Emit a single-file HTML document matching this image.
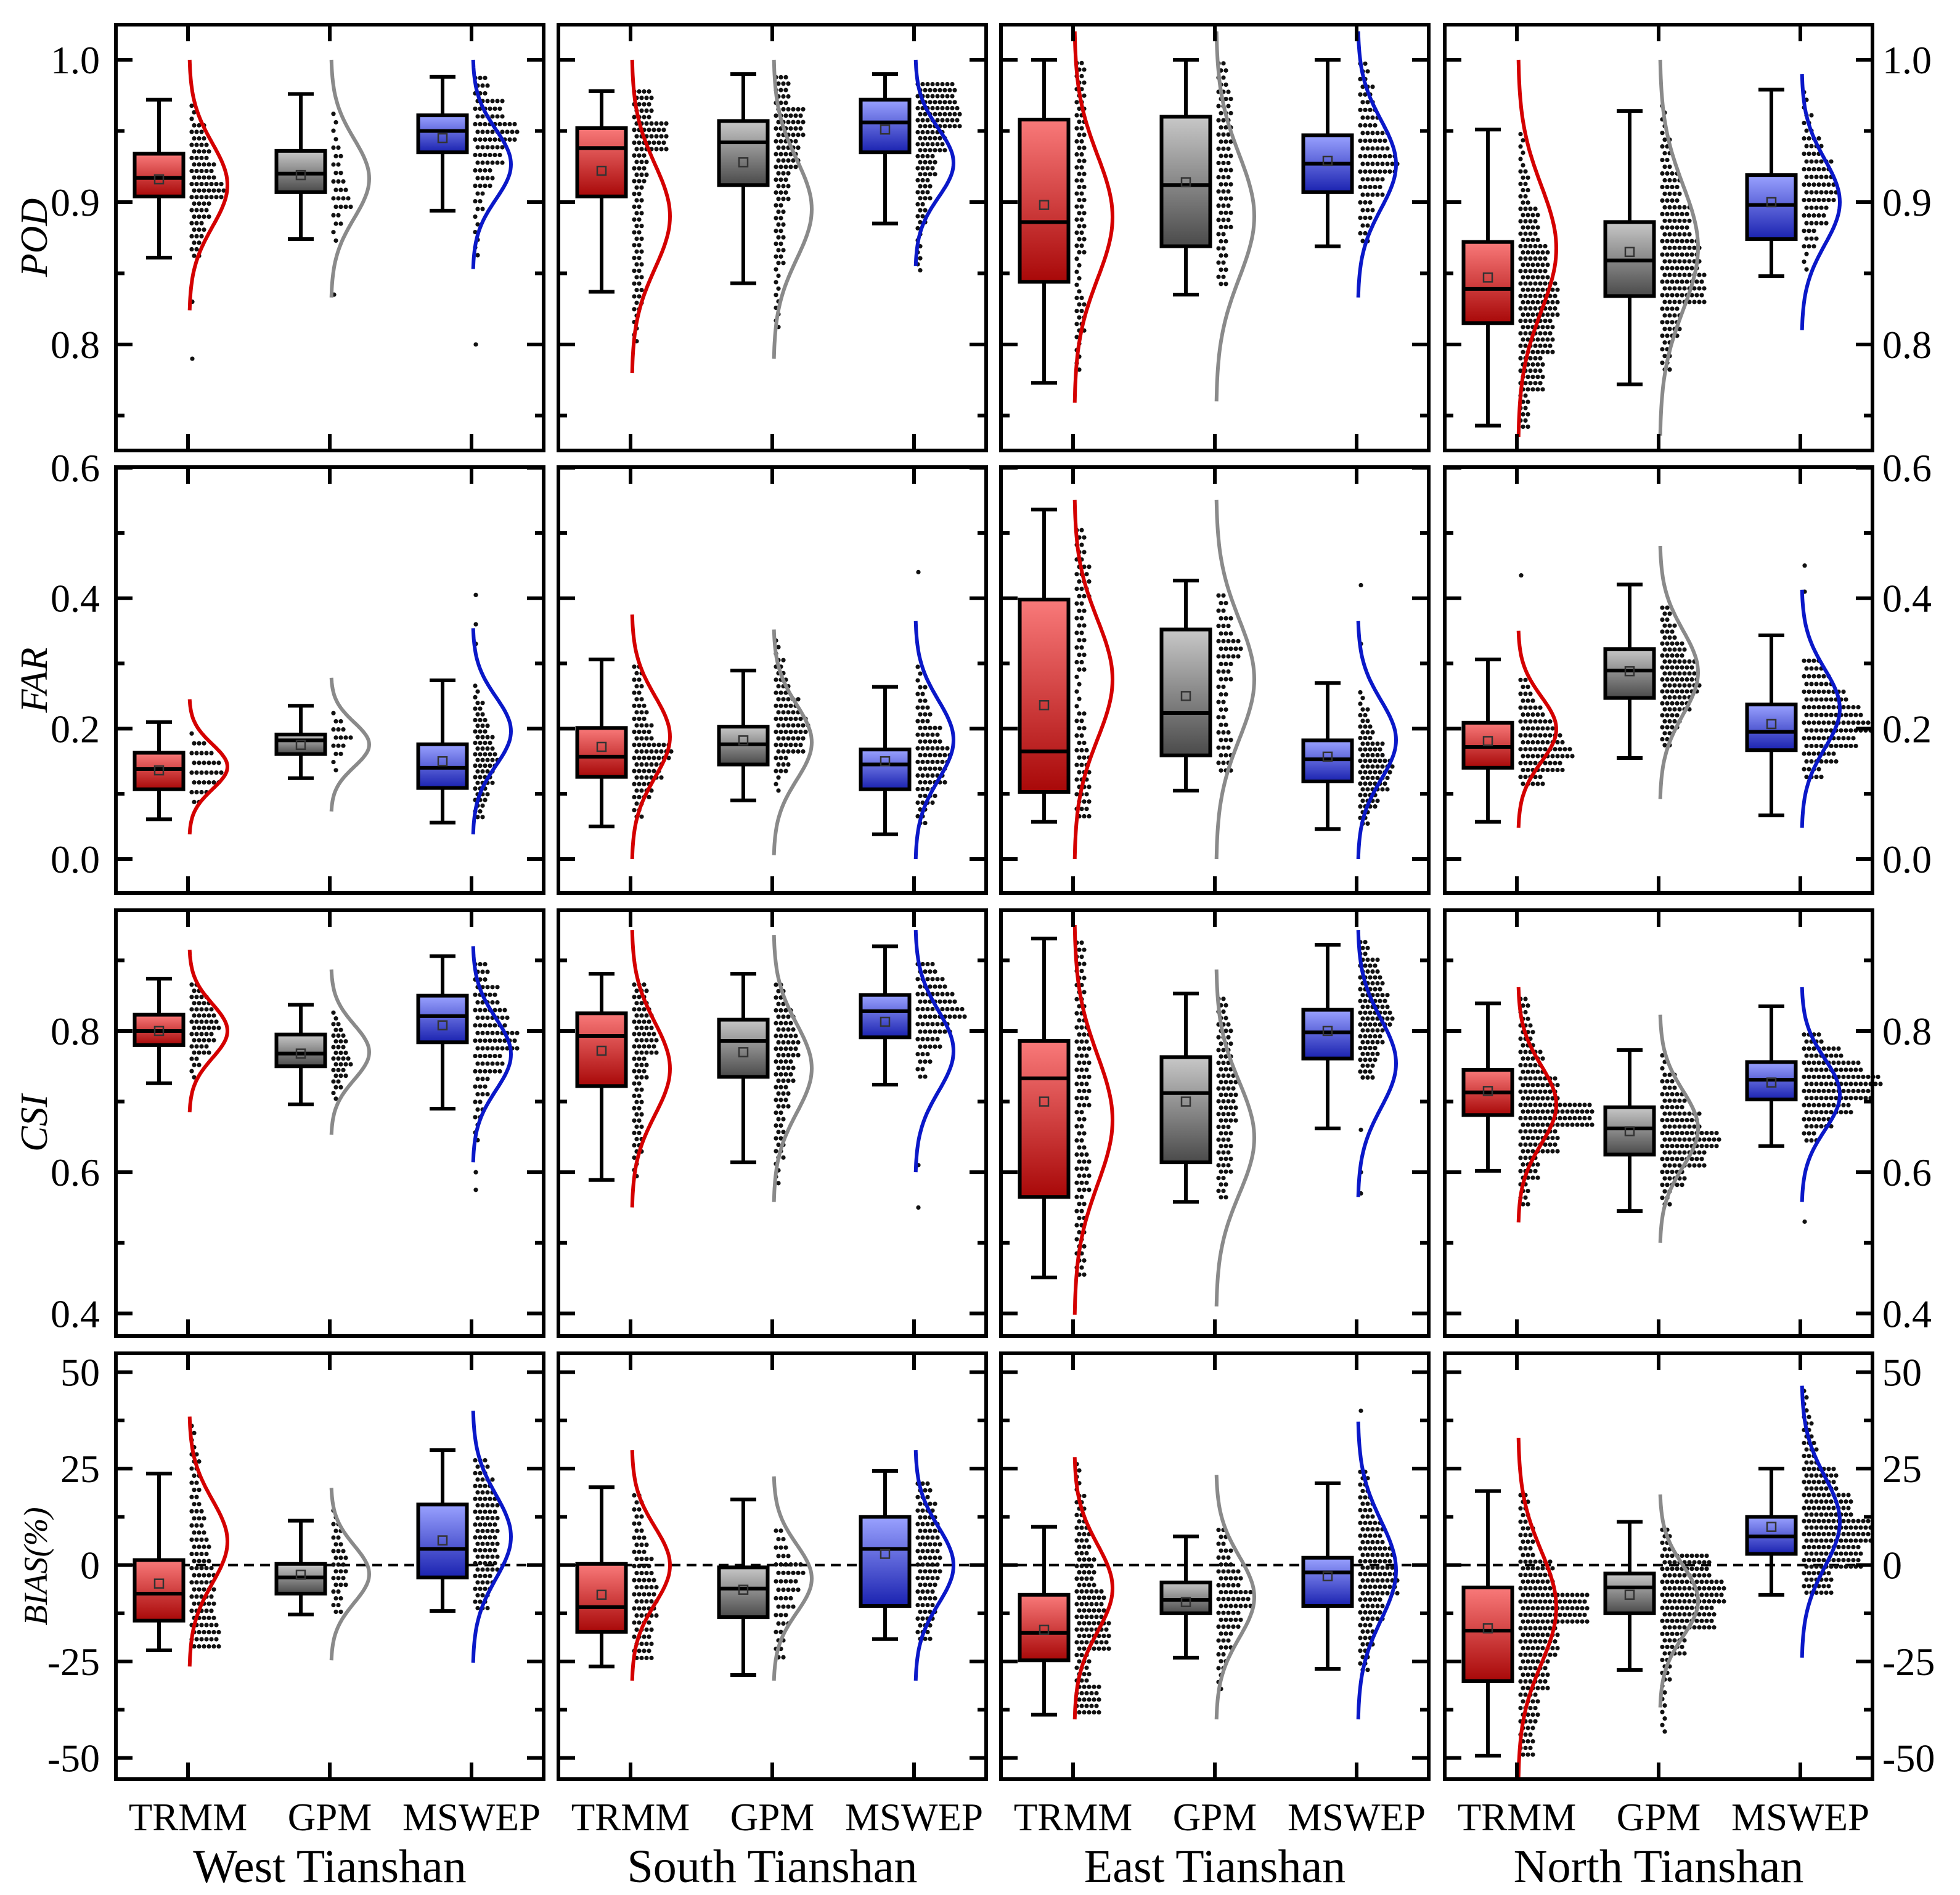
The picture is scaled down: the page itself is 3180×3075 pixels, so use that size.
<!DOCTYPE html>
<html><head><meta charset="utf-8">
<style>
html,body{margin:0;padding:0;background:#fff;}
svg{display:block;}
text{font-family:"Liberation Serif","DejaVu Serif",serif;fill:#000;}
</style></head>
<body>
<svg id="chart" width="3180" height="3075" viewBox="0 0 3180 3075" xmlns="http://www.w3.org/2000/svg">
<defs>
<linearGradient id="gr0" x1="0" y1="0" x2="0" y2="1"><stop offset="0" stop-color="#f97a7a"/><stop offset="1" stop-color="#a80808"/></linearGradient>
<linearGradient id="gr1" x1="0" y1="0" x2="0" y2="1"><stop offset="0" stop-color="#c8c8c8"/><stop offset="1" stop-color="#4a4a4a"/></linearGradient>
<linearGradient id="gr2" x1="0" y1="0" x2="0" y2="1"><stop offset="0" stop-color="#9aa2ff"/><stop offset="1" stop-color="#1a22b0"/></linearGradient>
</defs>
</svg>
<script>
const categories = ["TRMM","GPM","MSWEP"];
const regions = ["West Tianshan","South Tianshan","East Tianshan","North Tianshan"];
const metrics = ["POD","FAR","CSI","BIAS(%)"];
// box stats: [whiskerLow, q1, median, q3, whiskerHigh, mean] per region, per product
const podBox = [
 [[0.861,0.904,0.917,0.934,0.972,0.916],[0.874,0.907,0.920,0.936,0.976,0.919],[0.894,0.935,0.950,0.961,0.988,0.945]],
 [[0.837,0.904,0.938,0.952,0.978,0.922],[0.843,0.912,0.942,0.957,0.990,0.928],[0.885,0.935,0.956,0.972,0.990,0.951]],
 [[0.773,0.844,0.886,0.958,1.000,0.898],[0.835,0.869,0.912,0.960,1.000,0.914],[0.869,0.907,0.927,0.947,1.000,0.929]],
 [[0.743,0.815,0.839,0.872,0.951,0.847],[0.772,0.834,0.859,0.886,0.964,0.865],[0.848,0.874,0.898,0.919,0.979,0.900]]];
const farBox = [
 [[0.061,0.107,0.138,0.163,0.210,0.136],[0.124,0.161,0.182,0.191,0.235,0.175],[0.056,0.109,0.140,0.176,0.274,0.150]],
 [[0.050,0.126,0.157,0.201,0.306,0.172],[0.090,0.145,0.176,0.203,0.289,0.182],[0.038,0.107,0.145,0.168,0.264,0.150]],
 [[0.057,0.103,0.165,0.398,0.536,0.236],[0.105,0.159,0.224,0.352,0.427,0.250],[0.046,0.119,0.153,0.182,0.270,0.157]],
 [[0.057,0.140,0.172,0.209,0.306,0.181],[0.155,0.247,0.289,0.322,0.421,0.288],[0.067,0.167,0.195,0.237,0.343,0.207]]];
const csiBox = [
 [[0.726,0.780,0.800,0.823,0.874,0.800],[0.696,0.750,0.768,0.795,0.837,0.768],[0.690,0.784,0.821,0.850,0.906,0.808]],
 [[0.589,0.722,0.793,0.825,0.881,0.772],[0.614,0.735,0.786,0.816,0.881,0.770],[0.724,0.791,0.828,0.851,0.920,0.813]],
 [[0.451,0.565,0.733,0.786,0.931,0.700],[0.558,0.614,0.712,0.763,0.853,0.700],[0.662,0.761,0.798,0.830,0.922,0.800]],
 [[0.602,0.681,0.713,0.745,0.839,0.715],[0.545,0.625,0.662,0.692,0.773,0.658],[0.637,0.703,0.731,0.756,0.835,0.727]]];
const biasBox = [
 [[-22.1,-14.4,-7.4,1.3,23.7,-4.8],[-12.8,-7.4,-3.2,0.3,11.5,-2.5],[-11.9,-3.2,4.2,15.7,29.8,6.4]],
 [[-26.3,-17.3,-10.9,0.3,20.2,-7.7],[-28.5,-13.5,-6.1,-0.6,17.0,-6.4],[-19.2,-10.6,4.2,12.5,24.4,2.9]],
 [[-38.8,-24.7,-17.6,-7.7,9.9,-16.8],[-24.0,-12.5,-9.0,-4.5,7.4,-9.6],[-26.9,-10.6,-1.9,1.9,21.2,-2.9]],
 [[-49.4,-30.1,-17.0,-5.8,19.2,-16.4],[-27.2,-12.5,-5.8,-2.2,11.2,-7.7],[-7.7,2.9,7.4,12.5,25.0,9.9]]];
// normal curve extent [low, high]
const podCurve = [[[0.824,1.0],[0.833,1.0],[0.853,1.0]],[[0.780,1.0],[0.790,1.0],[0.855,1.0]],[[0.759,1.02],[0.760,1.02],[0.833,1.02]],[[0.735,1.0],[0.736,1.0],[0.810,0.99]]];
const farCurve = [[[0.038,0.245],[0.073,0.278],[0.038,0.354]],[[0.0,0.375],[0.006,0.352],[0.0,0.365]],[[0.0,0.551],[0.0,0.551],[0.0,0.365]],[[0.048,0.350],[0.092,0.480],[0.048,0.413]]];
const csiCurve = [[[0.685,0.915],[0.653,0.887],[0.614,0.920]],[[0.550,0.943],[0.558,0.936],[0.600,0.943]],[[0.398,0.950],[0.410,0.887],[0.565,0.943]],[[0.529,0.862],[0.500,0.823],[0.558,0.862]]];
const biasCurve = [[[-26.3,38.5],[-24.7,20.0],[-25.3,40.0]],[[-30,29.8],[-30,23],[-30,29.8]],[[-40,28],[-40,23.4],[-40,37.2]],[[-55,33],[-36.9,18.3],[-24,46.5]]];
// dot cloud range [low, high]
const podDotRange = [[[0.86,0.97],[0.87,0.965],[0.86,0.99]],[[0.80,0.98],[0.81,0.99],[0.85,0.985]],[[0.78,1.0],[0.84,1.0],[0.87,1.0]],[[0.74,0.95],[0.78,0.97],[0.85,0.98]]];
const farDotRange = [[[0.08,0.20],[0.13,0.23],[0.06,0.27]],[[0.06,0.30],[0.10,0.34],[0.05,0.30]],[[0.06,0.51],[0.13,0.41],[0.05,0.26]],[[0.11,0.28],[0.17,0.39],[0.12,0.31]]];
const csiDotRange = [[[0.73,0.87],[0.70,0.83],[0.64,0.90]],[[0.59,0.87],[0.58,0.87],[0.73,0.90]],[[0.45,0.93],[0.56,0.85],[0.73,0.93]],[[0.55,0.85],[0.55,0.77],[0.64,0.80]]];
const biasDotRange = [[[-22,37],[-13,15],[-12,28]],[[-25,19],[-25,10],[-20,22]],[[-39,27],[-33,10],[-28,25]],[[-50,19],[-44,10],[-8,46]]];
// dot counts per bin, from high value to low value
const podDots = [[[1,3,4,5,7,4,3,2],[1,1,2,2,3,4,2,1],[3,6,9,6,4,2,1,1]],[[4,7,3,2,2,2,2,1],[3,6,5,3,2,2,1,1],[8,9,6,4,3,2,1,1]],[[2,2,2,2,2,1,2,1],[2,3,3,3,3,3,2,2],[2,3,4,6,8,5,3,2]],[[1,2,4,6,8,7,5,2],[1,2,4,6,8,9,4,2],[1,2,4,6,7,5,3,1]]];
const farDots = [[[1,3,5,6,7,6,4,2],[1,2,3,4,3,2,1,1],[1,2,3,4,5,4,3,2]],[[2,2,3,4,8,6,4,2],[1,2,3,5,7,6,3,1],[1,2,3,5,7,6,4,2]],[[2,3,2,2,1,2,3,3],[2,3,5,3,2,2,3,3],[1,2,3,5,7,6,4,2]],[[2,3,5,7,9,11,9,5],[2,3,5,7,8,6,4,2],[4,6,9,12,14,11,7,4]]];
const csiDots = [[[2,4,5,6,5,4,2,1],[1,2,3,3,4,3,2,1],[3,5,7,9,6,3,2,1]],[[3,4,5,3,2,2,2,1],[2,4,5,4,3,2,2,1],[4,6,8,10,7,5,3,2]],[[2,2,3,3,2,3,2,2],[2,3,3,4,4,3,3,2],[2,4,5,6,7,5,4,3]],[[2,3,5,8,15,8,4,2],[1,3,5,8,12,9,5,2],[4,8,12,16,14,10,6,3]]];
const biasDots = [[[1,2,2,3,4,5,5,6],[1,2,2,3,3,3,2,2],[3,4,5,5,5,5,4,3]],[[2,2,3,4,5,5,4,4],[2,3,6,5,4,3,2,2],[3,4,5,5,5,4,4,3]],[[1,2,3,4,6,7,3,5],[2,3,5,7,5,3,2,1],[2,3,5,7,8,5,3,2]],[[2,3,7,14,8,6,4,3],[2,10,13,11,5,2,1,1],[1,2,3,7,10,14,12,6]]];
const podOut = [[[0.83,0.79],[0.835],[0.80]],[[],[],[]],[[],[],[]],[[],[],[]]];
const farOut = [[[],[],[0.405,0.36,0.33]],[[],[],[0.44]],[[],[],[0.42,0.33]],[[0.435],[],[0.45,0.41]]];
const csiOut = [[[],[],[0.575,0.60]],[[],[],[0.55,0.61]],[[],[],[0.66,0.57,0.60]],[[],[],[0.53]]];
const biasOut = [[[],[],[]],[[],[],[]],[[],[],[40]],[[],[],[]]];
const podTicks = ["1.0","0.9","0.8"];
const farTicks = ["0.6","0.4","0.2","0.0"];
const csiTicks = ["0.8","0.6","0.4"];
const biasTicks = ["50","25","0","-25","-50"];

const svg = document.getElementById('chart');
const NS = 'http://www.w3.org/2000/svg';
function mk(tag, attrs, parent){const e=document.createElementNS(NS,tag);for(const k in attrs)e.setAttribute(k,attrs[k]);(parent||svg).appendChild(e);return e;}

const colLeft=[188,906,1624,2344], PW=694;
const rowTop=[40,758,1477,2196], PH=691;
const domains=[[0.7255,1.0247],[-0.052,0.601],[0.368,0.971],[-55.5,54.9]];
const majors=[[0.8,0.9,1.0],[0,0.2,0.4,0.6],[0.4,0.6,0.8],[-50,-25,0,25,50]];
const minors=[[0.75,0.85,0.95],[0.1,0.3,0.5],[0.5,0.7,0.9],[-37.5,-12.5,12.5,37.5]];
const tickLabels=[podTicks,farTicks,csiTicks,biasTicks];
const tickVals=[[1.0,0.9,0.8],[0.6,0.4,0.2,0.0],[0.8,0.6,0.4],[50,25,0,-25,-50]];
const boxes=[podBox,farBox,csiBox,biasBox];
const curves=[podCurve,farCurve,csiCurve,biasCurve];
const dRanges=[podDotRange,farDotRange,csiDotRange,biasDotRange];
const dCounts=[podDots,farDots,csiDots,biasDots];
const outs=[podOut,farOut,csiOut,biasOut];
const lineCol=["#d40000","#8a8a8a","#0a18c8"];

function yScale(r){const [a,b]=domains[r];return v=>rowTop[r]+PH-(v-a)/(b-a)*PH;}
function xScale(c){return i=>colLeft[c]+117+i*230;}

for(let r=0;r<4;r++){
 const y=yScale(r);
 for(let c=0;c<4;c++){
  const x=xScale(c), L=colLeft[c], T=rowTop[r];
  const g=mk('g',{});
  
  
  if(r===3){const z=mk('line',{x1:L,x2:L+PW,y1:y(0),y2:y(0),stroke:'#000','stroke-width':4,'stroke-dasharray':'16,10'},g);
   }
  for(let i=0;i<3;i++){
   const cx=x(i);
   // dots
   const [lo,hi]=dRanges[r][c][i]; const counts=dCounts[r][c][i];
   const nb=counts.length; const y0=y(hi), y1=y(lo); const bh=(y1-y0)/nb;
   let row=0;
   for(let b=0;b<nb;b++){
     const nrows=Math.max(1,Math.round(bh/11));
     for(let k=0;k<nrows;k++){
       const yy=y0+b*bh+(k+0.5)*bh/nrows; const off=(row%2)*4; row++;
       for(let n=0;n<counts[b];n++){
         const d=mk('circle',{cx:cx+6+off+n*8,cy:yy,r:3.6,fill:'#111'},g);
         
         
       }
     }
   }
   for(const ov of outs[r][c][i]){
     const d=mk('circle',{cx:cx+7,cy:y(ov),r:3.6,fill:'#111'},g);
     
     
   }
   // curve
   const [clo,chi]=curves[r][c][i]; const mu=(clo+chi)/2, sd=(chi-clo)/6;
   let pts=[];
   for(let s=0;s<=80;s++){const v=clo+(chi-clo)*s/80;const p=Math.exp(-0.5*((v-mu)/sd)**2);pts.push((cx+2+62*p).toFixed(1)+','+y(v).toFixed(1));}
   const cv=mk('polyline',{points:pts.join(' '),fill:'none',stroke:lineCol[i],'stroke-width':6},g);
   
   
   // box
   const [wl,q1,md,q3,wh,mn]=boxes[r][c][i]; const bx=cx-47;
   const wk=mk('path',{d:`M${bx},${y(wh)}V${y(q3)}M${bx},${y(q1)}V${y(wl)}M${bx-21},${y(wh)}H${bx+21}M${bx-21},${y(wl)}H${bx+21}`,stroke:'#000','stroke-width':6,fill:'none'},g);
   
   
   const bxr=mk('rect',{x:bx-39.5,y:y(q3),width:79,height:y(q1)-y(q3),fill:`url(#gr${i})`,stroke:'#000','stroke-width':6},g);
   
   
   const ml=mk('line',{x1:bx-39.5,x2:bx+39.5,y1:y(md),y2:y(md),stroke:'#000','stroke-width':6},g);
   
   
   const mm=mk('rect',{x:bx-7,y:y(mn)-7,width:14,height:14,fill:'none',stroke:'#333','stroke-width':2.5},g);
   
   
  }
  // frame + ticks
  const fr=mk('rect',{x:L,y:T,width:PW,height:PH,fill:'none',stroke:'#000','stroke-width':6},g);
  
  
  let d='';
  for(const v of majors[r]){const yy=y(v);d+=`M${L},${yy}h27M${L+PW},${yy}h-27`;}
  for(const v of minors[r]){const yy=y(v);d+=`M${L},${yy}h14M${L+PW},${yy}h-14`;}
  for(let i=0;i<3;i++){d+=`M${x(i)},${T}v27M${x(i)},${T+PH}v-27`;}
  const tk=mk('path',{d:d,stroke:'#000','stroke-width':6,fill:'none'},g);
  
  
 }
 // tick labels
 tickLabels[r].forEach((lab,k)=>{
   const yy=y(tickVals[r][k])+22;
   const t1=mk('text',{x:162,y:yy,'font-size':64,'text-anchor':'end'});t1.textContent=lab;
   
   
   const t2=mk('text',{x:3054,y:yy,'font-size':64,'text-anchor':'start'});t2.textContent=lab;
   
   
 });
 const ym=rowTop[r]+PH/2;
 const tt=mk('text',{x:0,y:0,'font-size':r===3?54:62,'font-style':'italic','text-anchor':'middle',transform:`translate(76,${ym}) rotate(-90)`});
 tt.textContent=metrics[r];
 
 
}
for(let c=0;c<4;c++){
 const x=xScale(c);
 categories.forEach((cat,i)=>{
   const t=mk('text',{x:x(i),y:2970,'font-size':63,'text-anchor':'middle'});t.textContent=cat;
   
   
 });
 const t=mk('text',{x:colLeft[c]+PW/2,y:3054,'font-size':76,'text-anchor':'middle'});t.textContent=regions[c];
 
 
}
</script>
</body></html>
